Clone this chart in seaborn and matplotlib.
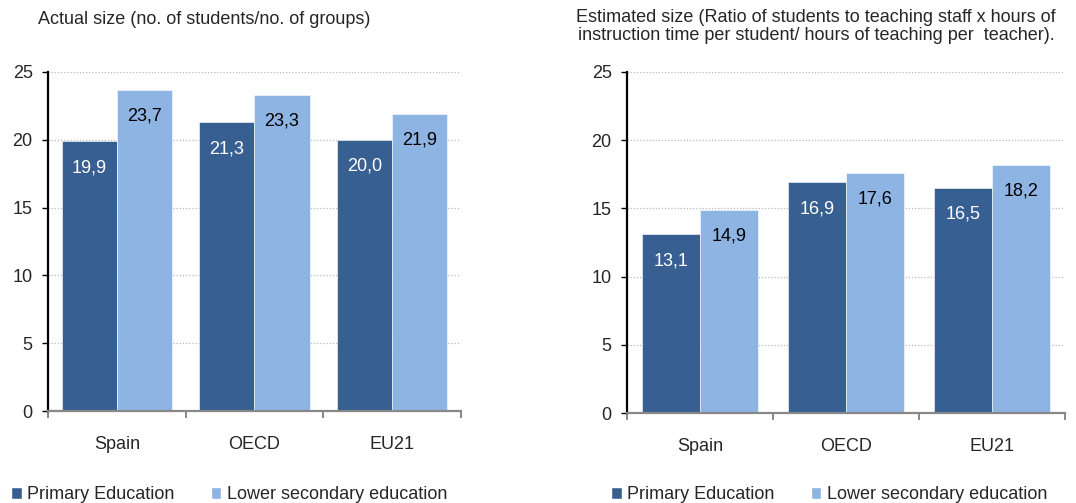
import pandas as pd
import matplotlib
matplotlib.use("Agg")
import matplotlib.pyplot as plt
import seaborn as sns
from matplotlib.patches import Patch

# -----------------------------
# data
# -----------------------------
regions = ["Spain", "OECD", "EU21"]
levels = ["Primary Education", "Lower secondary education"]
actual_primary = [19.9, 21.3, 20.0]
actual_lower = [23.7, 23.3, 21.9]
estimated_primary = [13.1, 16.9, 16.5]
estimated_lower = [14.9, 17.6, 18.2]
yticks = [0, 5, 10, 15, 20, 25]

title_left = "Actual size (no. of students/no. of groups)"
title_right = ("Estimated size (Ratio of students to teaching staff x hours of\n"
               "instruction time per student/ hours of teaching per  teacher).")

dark = "#375F91"
light = "#8EB4E3"

sns.set_style("white")
plt.rcParams['font.family'] = ['Liberation Sans', 'DejaVu Sans']


def make_df(prim, low):
    return pd.DataFrame({
        "region": regions * 2,
        "level": [levels[0]] * 3 + [levels[1]] * 3,
        "value": prim + low,
    })


def draw(ax, df):
    sns.barplot(data=df, x="region", y="value", hue="level", order=regions,
                hue_order=levels, palette=[dark, light], saturation=1,
                width=0.8, ax=ax, legend=False, edgecolor="white", linewidth=0.4)
    ax.set_ylim(0, 25)
    ax.set_xlim(-0.5, 2.5)
    ax.set_yticks(yticks)
    ax.set_xlabel("")
    ax.set_ylabel("")
    ax.grid(axis="y", color="#BBBBBB", linestyle=(0, (1, 1.5)), linewidth=0.9)
    ax.set_axisbelow(True)
    for s in ["top", "right"]:
        ax.spines[s].set_visible(False)
    ax.spines["left"].set_color("black")
    ax.spines["left"].set_linewidth(1.6)
    ax.spines["bottom"].set_color("#888888")
    ax.spines["bottom"].set_linewidth(1.6)
    ax.tick_params(axis="y", which="major", direction="out", length=4, width=1,
                   color="black", labelsize=13, pad=7, left=True)
    ax.tick_params(axis="x", which="major", length=0, labelsize=13, pad=18)
    ax.set_xticks([-0.5, 0.5, 1.5, 2.5], minor=True)
    ax.tick_params(axis="x", which="minor", direction="out", length=5, width=1.4,
                   color="#888888", bottom=True)
    # data labels inside the top of each bar
    for cont, tc in zip(ax.containers, ["white", "black"]):
        for bar in cont:
            h = bar.get_height()
            ax.annotate(f"{h:.1f}".replace(".", ","),
                        xy=(bar.get_x() + bar.get_width() / 2, h),
                        xytext=(0, -19), textcoords="offset points",
                        ha="center", va="center", color=tc, fontsize=13)


W, H = 1076, 503
fig = plt.figure(figsize=(W / 100, H / 100), dpi=100)
ax1 = fig.add_axes([48 / W, 1 - 411 / H, (461 - 48) / W, (411 - 72) / H])
ax2 = fig.add_axes([627 / W, 1 - 413 / H, (1065 - 627) / W, (413 - 72) / H])

draw(ax1, make_df(actual_primary, actual_lower))
draw(ax2, make_df(estimated_primary, estimated_lower))

fig.text(38 / W, 1 - 20 / H, title_left, ha="left", va="center", fontsize=13)
fig.text(816 / W, 1 - 9 / H, title_right, ha="center", va="top", fontsize=13,
         linespacing=1.1)

handles = [Patch(facecolor=dark), Patch(facecolor=light)]
for x0 in [0 / W, 600 / W]:
    fig.legend(handles, levels, loc="lower left", bbox_to_anchor=(x0, -0.022),
               ncol=2, frameon=False, fontsize=13, handlelength=0.6,
               handleheight=0.7, handletextpad=0.3, columnspacing=2.0,
               borderaxespad=0.2)

fig.savefig("out.png", dpi=100)
